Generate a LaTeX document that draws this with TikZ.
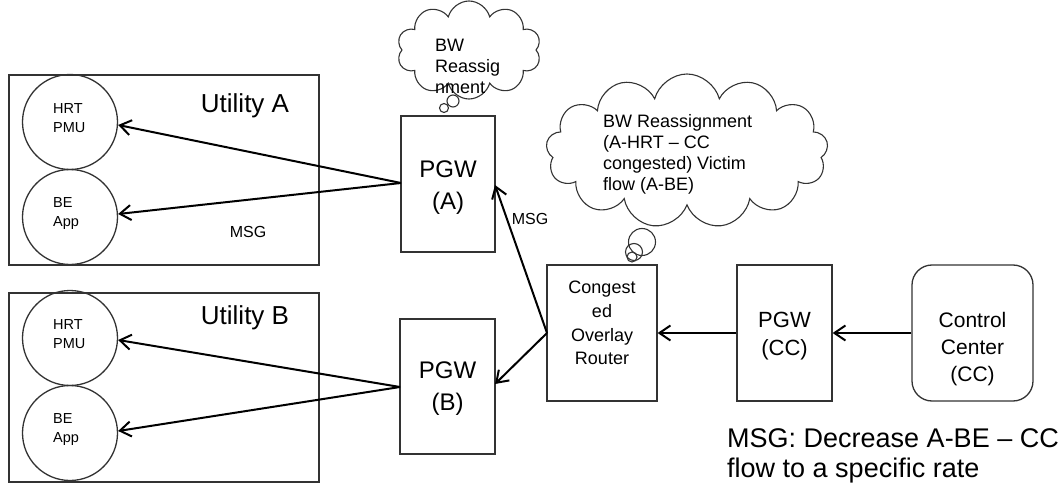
\documentclass[tikz,border=0pt]{standalone}
\usepackage{fontspec}
\setmainfont{Liberation Sans}
\usetikzlibrary{arrows.meta,shapes.symbols}

\tikzset{
  frame/.style={draw=black!80, line width=1.3pt, inner sep=0pt},
  unit/.style={frame, circle, minimum size=95pt},
  gw/.style={frame, rectangle},
  flow/.style={line width=2pt, -{Straight Barb[length=11pt, width=15pt, line width=2pt]}},
  thought/.style={draw=black!80, line width=1.1pt, cloud, cloud ignores aspect, inner sep=0pt},
  bubble/.style={draw=black!80, line width=1.1pt},
  lbl/.style={inner sep=0pt, align=left},
}

\begin{document}
\begin{tikzpicture}[x=1pt, y=-1pt]
\useasboundingbox (0,0) rectangle (1062,486);

% utility regions
\node[gw, minimum width=310pt, minimum height=190pt] (ua) at (164,170) {};
\node[gw, minimum width=310pt, minimum height=189pt] (ub) at (164,387.5) {};
\node[inner sep=0pt, font=\fontsize{26}{30}\selectfont] (uat) at (245,106) {Utility A};
\node[inner sep=0pt, font=\fontsize{26}{30}\selectfont] (ubt) at (245,318) {Utility B};

% endpoints inside the utilities
\node[unit] (ahrt) at (70,122) {};
\node[unit] (abe) at (70,217) {};
\node[unit] (bhrt) at (70,338) {};
\node[unit] (bbe) at (70,433) {};
\node[lbl, font=\fontsize{14.5}{19}\selectfont, anchor=west] (ahrtt) at (53,118) {HRT\\PMU};
\node[lbl, font=\fontsize{14.5}{19}\selectfont, anchor=west] (abet) at (53,213.5) {BE\\App};
\node[lbl, font=\fontsize{14.5}{19}\selectfont, anchor=west] (bhrtt) at (53,334) {HRT\\PMU};
\node[lbl, font=\fontsize{14.5}{19}\selectfont, anchor=west] (bbet) at (53,429.5) {BE\\App};

% gateways, router and control center
\node[gw, minimum width=94pt, minimum height=136pt] (pgwa) at (448,184) {};
\node[lbl, align=center, font=\fontsize{24}{32}\selectfont] (pgwat) at (448,188) {PGW\\(A)};
\node[gw, minimum width=95pt, minimum height=135pt] (pgwb) at (447.5,386.5) {};
\node[lbl, align=center, font=\fontsize{24}{32}\selectfont] (pgwbt) at (447.5,389) {PGW\\(B)};
\node[gw, minimum width=110pt, minimum height=136pt] (cor) at (602,333) {};
\node[lbl, align=center, font=\fontsize{18}{23.7}\selectfont] (cort) at (602,323) {Congest\\ed\\Overlay\\Router};
\node[gw, minimum width=95pt, minimum height=136pt] (pgwcc) at (784.5,333) {};
\node[lbl, align=center, font=\fontsize{22}{28}\selectfont] (pgwcct) at (784.5,336) {PGW\\(CC)};
\node[gw, rounded corners=20pt, minimum width=121pt, minimum height=136pt] (cc) at (972.5,333) {};
\node[lbl, align=center, font=\fontsize{21}{27}\selectfont] (cct) at (972.5,349) {Control\\Center\\(CC)};

% message flows
\draw[flow] (cc.west) -- (pgwcc.east);
\draw[flow] (pgwcc.west) -- (cor.east);
\coordinate (corout) at (547,333);
\draw[flow] (corout) -- (495,185);
\draw[flow] (corout) -- (495,384);
\coordinate (aout) at (401,183);
\draw[flow] (aout) -- (ahrt.east |- 0,125);
\draw[flow] (aout) -- (abe.east |- 0,214);
\coordinate (bout) at (400,387);
\draw[flow] (bout) -- (bhrt.east |- 0,340);
\draw[flow] (bout) -- (bbe.east |- 0,431);

\node[inner sep=0pt, font=\fontsize{16}{19}\selectfont] (msga) at (248,232) {MSG};
\node[inner sep=0pt, font=\fontsize{16}{19}\selectfont] (msgr) at (530,219) {MSG};

% thought clouds
\node[thought, cloud puffs=10, minimum width=144pt, minimum height=98pt] (c1) at (469,50) {};
\node[lbl, font=\fontsize{18}{21}\selectfont, anchor=west] (c1t) at (435,66) {BW\\Reassig\\nment};
\draw[bubble] (453,101) circle (6);
\draw[bubble] (444,108) circle (4.5);

\node[thought, cloud puffs=13, minimum width=282pt, minimum height=154pt] (c2) at (687,151) {};
\node[lbl, font=\fontsize{18}{21}\selectfont, anchor=west] (c2t) at (603,154) {BW Reassignment\\(A-HRT -- CC\\congested) Victim\\flow (A-BE)};
\draw[bubble] (642,242) circle (13.5);
\draw[bubble] (634,252) circle (8.5);
\draw[bubble] (632,257) circle (5);

% caption
\node[lbl, font=\fontsize{27}{30}\selectfont, anchor=west] (cap) at (727,456) {MSG: Decrease A-BE -- CC\\flow to a specific rate};
\end{tikzpicture}
\end{document}
